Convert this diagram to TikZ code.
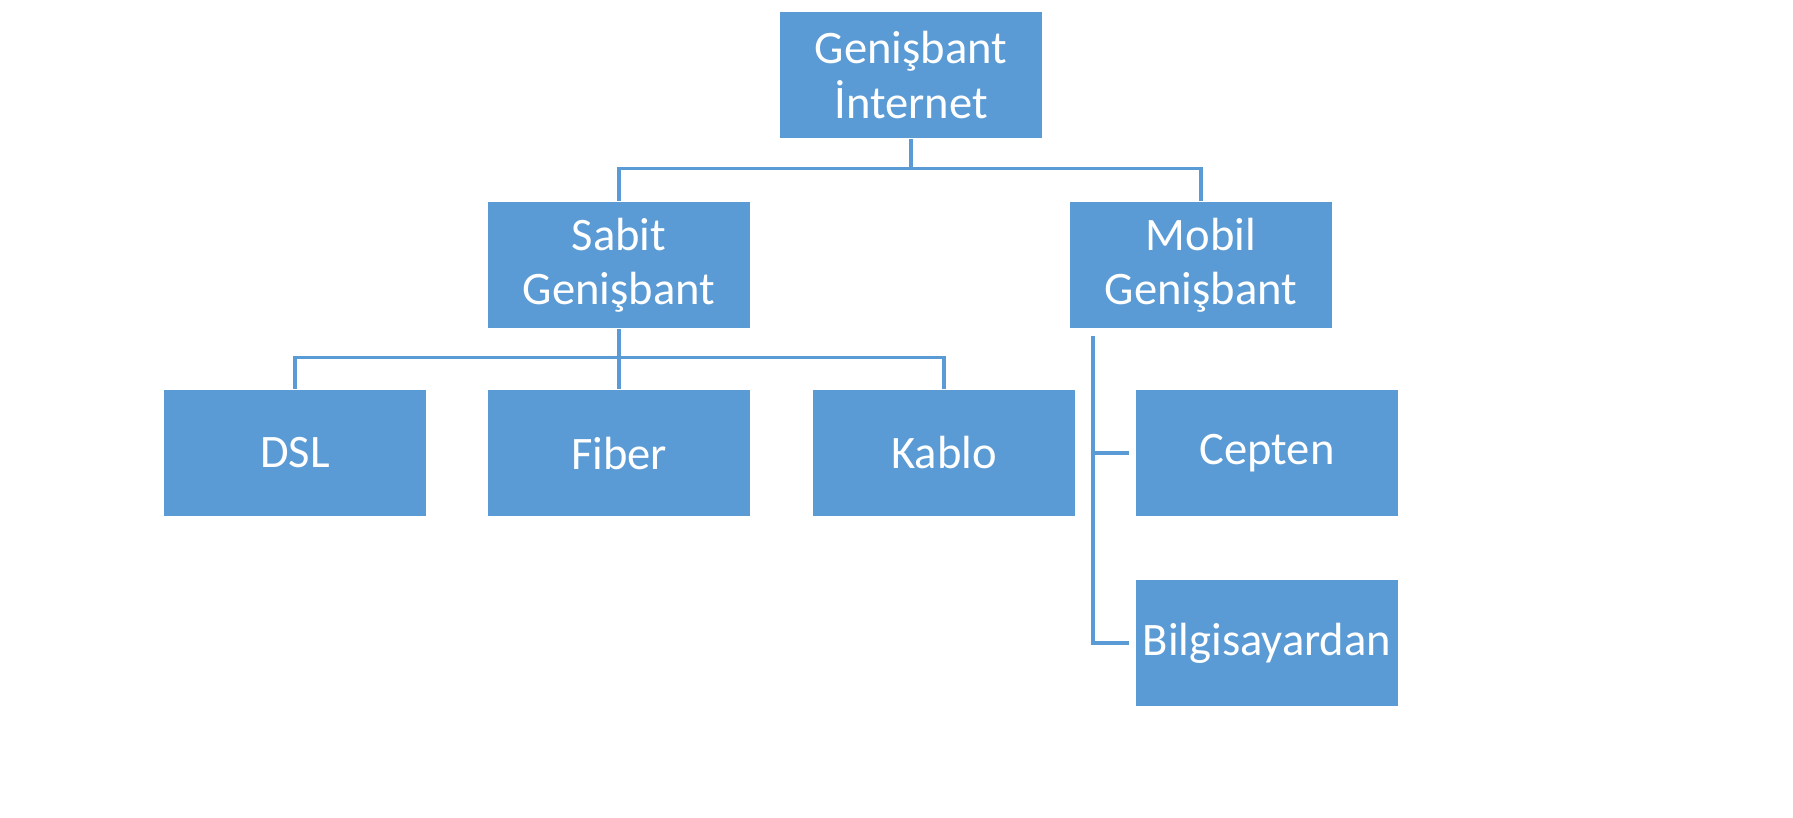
\documentclass[tikz,border=0pt]{standalone}
\usepackage{fontspec}
\setmainfont{Carlito}
\begin{document}
\begin{tikzpicture}[x=0.02cm,y=-0.02cm,
  box/.style={draw=none,fill=boxc,text=white,minimum width=5.24cm,minimum height=2.54cm,inner sep=0pt,align=center,font=\fontsize{26.5}{31}\selectfont},
  con/.style={draw=linec,line width=1.8pt}]
\definecolor{boxc}{HTML}{5B9BD5}
\definecolor{linec}{HTML}{5B9BD5}
\useasboundingbox (0,0) rectangle (1793,818);
\node[box] (root) at (911,75) {Genişbant\\İnternet};
\node[box] (sabit) at (619,265) {Sabit\\Genişbant};
\node[box] (mobil) at (1201,265) {Mobil\\Genişbant};
\node[box] (dsl) at (295,453) {DSL};
\node[box] (fiber) at (619,453) {Fiber};
\node[box] (kablo) at (944,453) {Kablo};
\node[box] (cep) at (1267,453) {Cepten};
\node[box] (bil) at (1267,643) {Bilgisayardan};
\coordinate (m1) at (1093,336);
\coordinate (m2) at (1093,453);
\coordinate (m3) at (1093,643);
\draw[con] (root.south) -- ++(0,30) -| (sabit.north);
\draw[con] (root.south) ++(0,30) -| (mobil.north);
\draw[con] (sabit.south) -- ++(0,29) -| (dsl.north);
\draw[con] (sabit.south) ++(0,29) -| (kablo.north);
\draw[con] (sabit.south) -- (fiber.north);
\draw[con] (m1) -- (m3) -- ([xshift=-0.14cm]bil.west);
\draw[con] (m2) -- ([xshift=-0.14cm]cep.west);
\end{tikzpicture}
\end{document}
